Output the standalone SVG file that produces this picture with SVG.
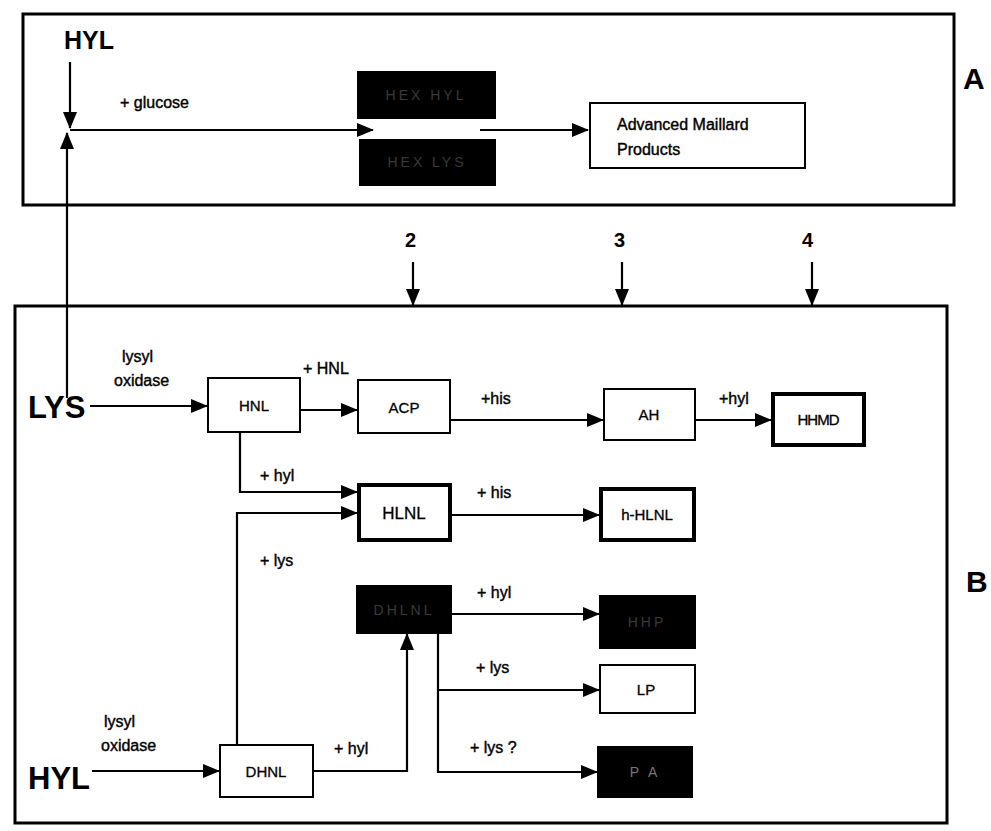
<svg xmlns="http://www.w3.org/2000/svg" width="991" height="831" viewBox="0 0 991 831">
<defs>
<marker id="ahb" viewBox="0 0 17 14" refX="16" refY="7" markerWidth="17" markerHeight="14" markerUnits="userSpaceOnUse" orient="auto">
<path d="M0,0 L17,7 L0,14 z" fill="#000"/>
</marker>
</defs>
<style>
text{font-family:"Liberation Sans",Arial,sans-serif;fill:#000}
.big{font-size:25px;font-weight:bold}
.bigB{font-size:31px;font-weight:bold}
.lab{font-size:16px;stroke:#000;stroke-width:0.4}
.nd{font-size:15px;stroke:#000;stroke-width:0.3}
.num{font-size:20px;font-weight:bold}
.box{fill:#fff;stroke:#000;stroke-width:2}
.tbox{fill:#fff;stroke:#000;stroke-width:4}
.bbox{fill:#000;stroke:#000;stroke-width:2}
.dk{font-size:14px;fill:#3a3a3a;letter-spacing:3px}
.ln{fill:none;stroke:#000;stroke-width:2.2}
.panel{fill:none;stroke:#000;stroke-width:3}
</style>
<rect width="991" height="831" fill="#fff"/>
<g id="panelA">
<rect class="panel" x="23" y="14" width="931" height="191"/>
<text class="big" x="64" y="49">HYL</text>
<text class="lab" x="120" y="108">+ glucose</text>
<text x="963" y="89" style="font-size:30px;font-weight:bold">A</text>
</g>
<g id="panelB">
<rect class="panel" x="15" y="306" width="932" height="517"/>
<text x="966" y="592" style="font-size:30px;font-weight:bold">B</text>
<text class="num" x="405" y="247">2</text>
<text class="num" x="614" y="247">3</text>
<text class="num" x="802" y="247">4</text>
<text class="bigB" x="28" y="418">LYS</text>
<text class="lab" x="122" y="362">lysyl</text>
<text class="lab" x="114" y="386">oxidase</text>
<text class="bigB" x="28" y="789">HYL</text>
<text class="lab" x="104" y="727">lysyl</text>
<text class="lab" x="101" y="751">oxidase</text>
<text class="lab" x="303" y="374">+ HNL</text>
<text class="lab" x="481" y="404">+his</text>
<text class="lab" x="719" y="404">+hyl</text>
<text class="lab" x="260" y="481">+ hyl</text>
<text class="lab" x="477" y="498">+ his</text>
<text class="lab" x="260" y="566">+ lys</text>
<text class="lab" x="477" y="598">+ hyl</text>
<text class="lab" x="476" y="673">+ lys</text>
<text class="lab" x="470" y="753">+ lys ?</text>
<text class="lab" x="334" y="754">+ hyl</text>
</g>
<g id="hexhyl"><rect class="bbox" x="358" y="72" width="137" height="46"/><text class="dk" x="426" y="100" text-anchor="middle">HEX HYL</text></g>
<g id="hexlys"><rect class="bbox" x="360" y="140" width="135" height="45"/><text class="dk" x="427" y="167" text-anchor="middle">HEX LYS</text></g>
<g id="maillard"><rect class="box" x="590" y="103" width="215" height="65"/><text class="lab" x="617" y="130">Advanced  Maillard</text><text class="lab" x="617" y="155">Products</text></g>
<g id="hnl"><rect class="box" x="208" y="378" width="92" height="54"/><text class="nd" x="254" y="411" text-anchor="middle">HNL</text></g>
<g id="acp"><rect class="box" x="358" y="380" width="92" height="53"/><text class="nd" x="404" y="413" text-anchor="middle">ACP</text></g>
<g id="ah"><rect class="box" x="604" y="389" width="91" height="51"/><text class="nd" x="649" y="420" text-anchor="middle">AH</text></g>
<g id="hhmd"><rect class="tbox" x="773" y="394" width="91" height="51"/><text class="nd" x="818" y="425" text-anchor="middle" style="letter-spacing:-1px">HHMD</text></g>
<g id="hlnl"><rect class="tbox" x="359" y="485" width="91" height="55"/><text x="404" y="519" text-anchor="middle" style="font-size:17px;stroke:#000;stroke-width:0.3">HLNL</text></g>
<g id="hhlnl"><rect class="tbox" x="601" y="489" width="93" height="51"/><text class="nd" x="647" y="520" text-anchor="middle">h-HLNL</text></g>
<g id="dhlnl"><rect class="bbox" x="357" y="586" width="94" height="47"/><text class="dk" x="404" y="615" text-anchor="middle">DHLNL</text></g>
<g id="hp"><rect class="bbox" x="600" y="596" width="95" height="52"/><text class="dk" x="647" y="627" text-anchor="middle">HHP</text></g>
<g id="lp"><rect class="box" x="600" y="665" width="95" height="48"/><text class="nd" x="646" y="695" text-anchor="middle">LP</text></g>
<g id="pa"><rect class="bbox" x="598" y="747" width="94" height="50"/><text class="dk" x="645" y="777" text-anchor="middle" style="fill:#777">P A</text></g>
<g id="dhnl"><rect class="box" x="220" y="745" width="93" height="52"/><text class="nd" x="266" y="777" text-anchor="middle">DHNL</text></g>
<g id="connectors">
<path class="ln" d="M70,62 V128" marker-end="url(#ahb)"/>
<path class="ln" d="M67,398 V133" marker-end="url(#ahb)"/>
<path class="ln" d="M70,130 H373" marker-end="url(#ahb)"/>
<path class="ln" d="M480,130 H588" marker-end="url(#ahb)"/>
<path class="ln" d="M413,262 V305" marker-end="url(#ahb)"/>
<path class="ln" d="M622,262 V305" marker-end="url(#ahb)"/>
<path class="ln" d="M812,262 V305" marker-end="url(#ahb)"/>
<path class="ln" d="M90,406 H207" marker-end="url(#ahb)"/>
<path class="ln" d="M300,410 H357" marker-end="url(#ahb)"/>
<path class="ln" d="M450,420 H603" marker-end="url(#ahb)"/>
<path class="ln" d="M695,420 H771" marker-end="url(#ahb)"/>
<path class="ln" d="M240,432 V492 H357" marker-end="url(#ahb)"/>
<path class="ln" d="M450,515 H599" marker-end="url(#ahb)"/>
<path class="ln" d="M237,745 V513 H357" marker-end="url(#ahb)"/>
<path class="ln" d="M451,614 H599" marker-end="url(#ahb)"/>
<path class="ln" d="M438,633 V772 H597" marker-end="url(#ahb)"/>
<path class="ln" d="M438,690 H599" marker-end="url(#ahb)"/>
<path class="ln" d="M92,771 H219" marker-end="url(#ahb)"/>
<path class="ln" d="M313,771 H407 V634" marker-end="url(#ahb)"/>
</g>
</svg>
